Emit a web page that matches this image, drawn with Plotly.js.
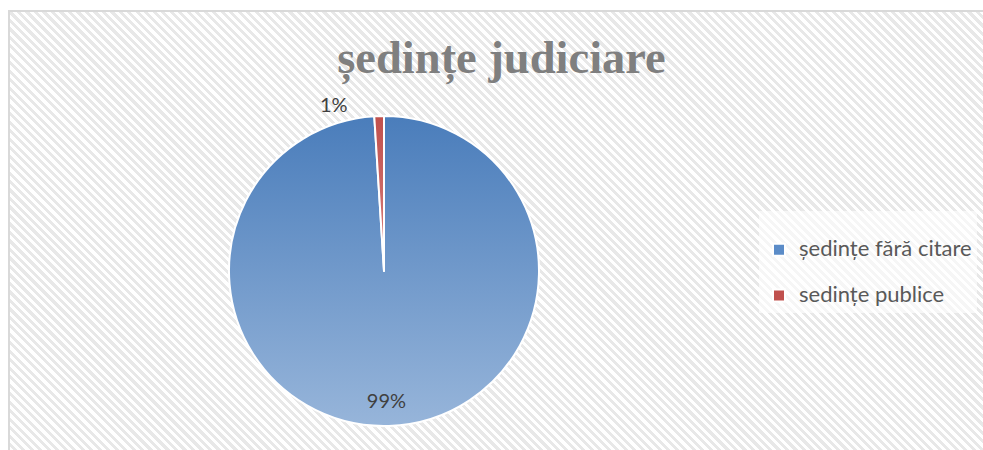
<!DOCTYPE html>
<html>
<head>
<meta charset="utf-8">
<script src="https://cdn.plot.ly/plotly-3.0.1.min.js"></script>
<style>
  html, body { margin: 0; padding: 0; background: #ffffff; }
  #wrap { position: relative; width: 983px; height: 450px; overflow: hidden; background: #ffffff; }
  #frame {
    position: absolute; left: 8px; top: 10px; width: 990px; height: 460px;
    border: 2px solid #d9d9d9; box-sizing: border-box;
    background: repeating-linear-gradient(45deg, #ffffff 0px, #ffffff 3px, #e8e8e8 3px, #e8e8e8 6px);
  }
  #chart { position: absolute; left: 0; top: 0; width: 983px; height: 450px; }
</style>
</head>
<body>
<div id="wrap">
  <div id="frame"></div>
  <div id="chart"></div>
</div>
<script>
const categories = ["ședințe fără citare", "sedințe publice"];
const values = [99, 1];
const titleText = "ședințe judiciare";

// legend labels built from the categories (leading break gives Excel-like row spacing)
const legendLabels = categories.map(function (c) {
  return "<br><span style='font-size:22px'>" + c + "</span>";
});

const NB = "\u00a0";
const trace = {
  type: "pie",
  labels: legendLabels,
  values: values,
  sort: false,
  direction: "clockwise",
  rotation: 0,
  textinfo: "percent",
  texttemplate: [NB + "<br>" + NB + "<br>" + NB + "<br>" + NB + "<br>%{percent}", "%{percent}" + NB + NB + NB + NB + NB],
  textposition: ["inside", "outside"],
  insidetextorientation: "horizontal",
  textfont: { family: "Lato, 'Liberation Sans', sans-serif", size: 20, color: "#404040" },
  outsidetextfont: { family: "Lato, 'Liberation Sans', sans-serif", size: 20, color: "#404040" },
  marker: { colors: ["#5b8cc8", "#c0504d"], line: { color: "#ffffff", width: 2 } },
  domain: { x: [229/983, 539/983], y: [24/450, 334/450] },
  hoverinfo: "percent"
};

const layout = {
  width: 983, height: 450,
  margin: { l: 0, r: 0, t: 0, b: 0 },
  paper_bgcolor: "rgba(0,0,0,0)",
  plot_bgcolor: "rgba(0,0,0,0)",
  title: {
    text: "<b>" + titleText + "</b>",
    font: { family: "'Liberation Serif', 'DejaVu Serif', serif", size: 46.5, color: "#7f7f7f" },
    x: 501.5/983, xanchor: "center",
    y: 1 - 57/450, yanchor: "middle"
  },
  showlegend: true,
  legend: {
    x: 759/983, xanchor: "left",
    y: 1 - 211/450, yanchor: "top",
    valign: "bottom",
    bgcolor: "rgba(255,255,255,0.6)",
    font: { family: "Lato, 'Liberation Sans', sans-serif", size: 16.5, color: "#595959" }
  }
};

Plotly.newPlot("chart", [trace], layout, { displayModeBar: false, staticPlot: true }).then(function (gd) {
  const svg = gd.querySelector("svg.main-svg");
  const ns = "http://www.w3.org/2000/svg";
  let defs = svg.querySelector("defs");
  if (!defs) { defs = document.createElementNS(ns, "defs"); svg.insertBefore(defs, svg.firstChild); }
  function grad(id, c1, c2) {
    const g = document.createElementNS(ns, "linearGradient");
    g.setAttribute("id", id);
    g.setAttribute("x1", "0"); g.setAttribute("y1", "0");
    g.setAttribute("x2", "0"); g.setAttribute("y2", "1");
    [[0, c1], [1, c2]].forEach(function (s) {
      const st = document.createElementNS(ns, "stop");
      st.setAttribute("offset", s[0]);
      st.setAttribute("stop-color", s[1]);
      g.appendChild(st);
    });
    defs.appendChild(g);
  }
  grad("gBlue", "#4a7dbb", "#97b5da");
  grad("gRed", "#c0504d", "#d8817e");
  const slices = gd.querySelectorAll(".slice path.surface");
  if (slices[0]) slices[0].style.fill = "url(#gBlue)";
  if (slices[1]) slices[1].style.fill = "url(#gRed)";
});
</script>
</body>
</html>
